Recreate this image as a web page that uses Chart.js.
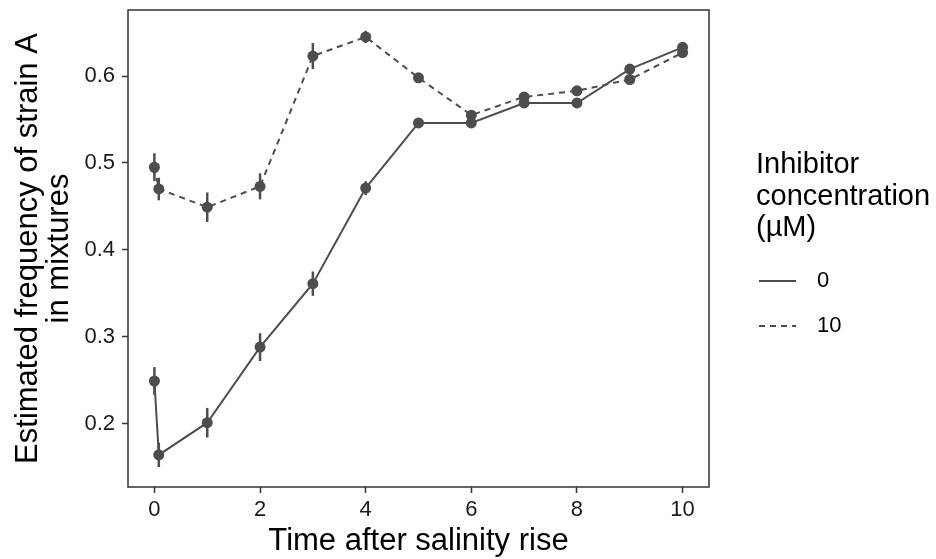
<!DOCTYPE html>
<html>
<head>
<meta charset="utf-8">
<script src="https://cdn.jsdelivr.net/npm/chart.js@4/dist/chart.umd.min.js"></script>
<style>
  html, body { margin: 0; padding: 0; background: #fff; }
</style>
</head>
<body>
<canvas id="chart" width="936" height="559"></canvas>
<script>
// time after salinity rise (same sampling for both inhibitor levels)
const times = [0, 0.083, 1, 2, 3, 4, 5, 6, 7, 8, 9, 10];
// estimated frequency of strain A, inhibitor 0 uM
const freq0 = [0.249, 0.164, 0.201, 0.288, 0.361, 0.471, 0.546, 0.546, 0.569, 0.569, 0.608, 0.633];
const err0 = [0.016, 0.014, 0.017, 0.016, 0.014, 0.008, 0.004, 0.004, 0.004, 0.004, 0.005, 0.005];
// estimated frequency of strain A, inhibitor 10 uM
const freq10 = [0.495, 0.470, 0.449, 0.473, 0.623, 0.645, 0.598, 0.555, 0.576, 0.583, 0.596, 0.627];
const err10 = [0.016, 0.013, 0.017, 0.015, 0.015, 0.007, 0.004, 0.004, 0.004, 0.004, 0.004, 0.005];

const seriesNames = ['0', '10'];
const xTicks = [0, 2, 4, 6, 8, 10];
const yTicks = [0.2, 0.3, 0.4, 0.5, 0.6];

const FONT = "'Liberation Sans', Arial, sans-serif";
const INK = '#4d4d4d';
const DASH = [6, 5];

// vertical error bars, drawn through the chart scales
const errorBars = {
  id: 'errorBars',
  beforeDatasetsDraw(chart) {
    const { ctx, scales: { x, y } } = chart;
    const errs = [err0, err10];
    ctx.save();
    ctx.strokeStyle = INK;
    ctx.lineWidth = 2.5;
    chart.data.datasets.forEach((ds, d) => {
      ds.data.forEach((p, i) => {
        const px = x.getPixelForValue(p.x);
        ctx.beginPath();
        ctx.moveTo(px, y.getPixelForValue(p.y - errs[d][i]));
        ctx.lineTo(px, y.getPixelForValue(p.y + errs[d][i]));
        ctx.stroke();
      });
    });
    ctx.restore();
  }
};

// panel border (theme_bw style, no grid)
const panelBorder = {
  id: 'panelBorder',
  beforeDatasetsDraw(chart) {
    const { ctx, chartArea: a } = chart;
    ctx.save();
    ctx.strokeStyle = '#333';
    ctx.lineWidth = 1.5;
    ctx.strokeRect(a.left, a.top, a.right - a.left, a.bottom - a.top);
    ctx.restore();
  }
};

// legend on the right with line-type keys
const lineLegend = {
  id: 'lineLegend',
  afterDraw(chart) {
    const { ctx } = chart;
    const x0 = 756;
    ctx.save();
    ctx.fillStyle = '#000';
    ctx.textBaseline = 'middle';
    ctx.textAlign = 'left';
    ctx.font = '29px ' + FONT;
    ['Inhibitor', 'concentration', '(\u00b5M)'].forEach((t, i) => ctx.fillText(t, x0, 165 + i * 31.5));
    ctx.font = '22px ' + FONT;
    chart.data.datasets.forEach((ds, i) => {
      const yy = 281 + i * 45;
      ctx.strokeStyle = INK;
      ctx.lineWidth = 2;
      ctx.setLineDash(ds.borderDash || []);
      ctx.beginPath();
      ctx.moveTo(x0 + 3, yy);
      ctx.lineTo(x0 + 40, yy);
      ctx.stroke();
      ctx.setLineDash([]);
      ctx.fillStyle = '#000';
      ctx.fillText(ds.label, 817, yy);
    });
    ctx.restore();
  }
};

const axisCommon = {
  type: 'linear',
  border: { display: false },
  grid: {
    display: true,
    drawOnChartArea: false,
    drawTicks: true,
    tickLength: 6,
    tickWidth: 1.5,
    color: '#333'
  }
};

new Chart(document.getElementById('chart').getContext('2d'), {
  type: 'scatter',
  data: {
    datasets: [
      {
        label: seriesNames[0],
        data: times.map((t, i) => ({ x: t, y: freq0[i] })),
        showLine: true,
        borderColor: INK,
        backgroundColor: INK,
        borderWidth: 2,
        borderDash: [],
        pointRadius: 5.5,
        pointHoverRadius: 5.5,
        pointBorderWidth: 0
      },
      {
        label: seriesNames[1],
        data: times.map((t, i) => ({ x: t, y: freq10[i] })),
        showLine: true,
        borderColor: INK,
        backgroundColor: INK,
        borderWidth: 2,
        borderDash: DASH,
        pointRadius: 5.5,
        pointHoverRadius: 5.5,
        pointBorderWidth: 0
      }
    ]
  },
  options: {
    responsive: false,
    animation: false,
    layout: { padding: { left: 0, top: 10, right: 227, bottom: 0 } },
    plugins: {
      legend: { display: false },
      tooltip: { enabled: false }
    },
    scales: {
      x: {
        ...axisCommon,
        min: -0.5,
        max: 10.5,
        afterBuildTicks: s => { s.ticks = xTicks.map(v => ({ value: v })); },
        afterFit: s => { s.height = 72; s.paddingLeft = 0; s.paddingRight = 0; },
        ticks: { font: { family: FONT, size: 22 }, color: '#1a1a1a', padding: 4 },
        title: {
          display: true,
          text: 'Time after salinity rise',
          font: { family: FONT, size: 31, lineHeight: 1.15 },
          color: '#000',
          padding: { top: 0, bottom: 0 }
        }
      },
      y: {
        ...axisCommon,
        min: 0.127,
        max: 0.676,
        afterBuildTicks: s => { s.ticks = yTicks.map(v => ({ value: v })); },
        afterFit: s => { s.width = 128; s.paddingTop = 0; s.paddingBottom = 0; },
        ticks: {
          font: { family: FONT, size: 22 },
          color: '#1a1a1a',
          padding: 7,
          callback: v => v.toFixed(1)
        },
        title: {
          display: true,
          text: ['Estimated frequency of strain A', 'in mixtures'],
          font: { family: FONT, size: 31, lineHeight: 1.03 },
          color: '#000',
          padding: { top: 12, bottom: 0 }
        }
      }
    }
  },
  plugins: [panelBorder, errorBars, lineLegend]
});
</script>
</body>
</html>
